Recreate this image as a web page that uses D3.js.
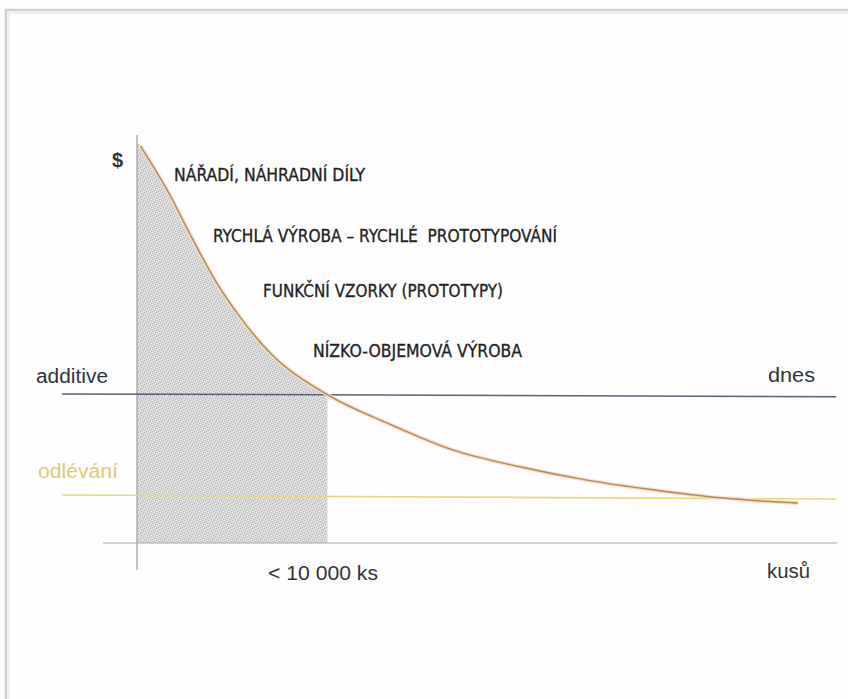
<!DOCTYPE html>
<html>
<head>
<meta charset="utf-8">
<script src="https://cdn.jsdelivr.net/npm/d3@7"></script>
<style>
  html, body { margin: 0; padding: 0; background: #ffffff; }
  svg { display: block; }
</style>
</head>
<body>
<svg id="chart" width="848" height="699"></svg>
<script>
// Cost per piece vs. number of pieces (arbitrary units 0–100 on both axes)
const curveX = [0.5, 4.3, 8.0, 11.4, 14.7, 18.6, 27.2, 35.7, 45.1, 54.7, 64.3, 73.7, 83.3, 94.4];
const curveY = [98.5, 87.6, 75.2, 64.5, 56.1, 47.9, 36.8, 29.8, 23.1, 18.9, 15.6, 13.2, 11.2, 9.9];

// Reference cost levels (value at the left end, value at the right end)
const additiveLevel = [37.0, 36.3];
const castingLevel = [11.9, 10.9];

// Break-even quantity where the curve meets the additive level
const breakEven = 27.2;

// Application areas listed along the curve
const applications = [
  "NÁŘADÍ, NÁHRADNÍ DÍLY",
  "RYCHLÁ VÝROBA – RYCHLÉ  PROTOTYPOVÁNÍ",
  "FUNKČNÍ VZORKY (PROTOTYPY)",
  "NÍZKO-OBJEMOVÁ VÝROBA"
];

// Axis and line labels
const yAxisLabel = "$";
const xAxisLabel = "kusů";
const breakEvenLabel = "< 10 000 ks";
const additiveLabel = "additive";
const additiveNote = "dnes";
const castingLabel = "odlévání";

const svg = d3.select("#chart");
const x = d3.scaleLinear().domain([0, 100]).range([137, 837]);
const y = d3.scaleLinear().domain([0, 100]).range([543, 140]);

// Page frame
svg.append("rect").attr("x", 0).attr("y", 0).attr("width", 848).attr("height", 699).attr("fill", "#fefefe");
svg.append("path")
  .attr("d", "M6,699 L6,10 L848,10")
  .attr("fill", "none").attr("stroke", "#cfcfcf").attr("stroke-width", 2.5);
svg.append("path")
  .attr("d", "M9,699 L9,13 L848,13")
  .attr("fill", "none").attr("stroke", "#efefef").attr("stroke-width", 2);

// Stippled texture for the area under the curve
const defs = svg.append("defs");
const pat = defs.append("pattern").attr("id", "stipple")
  .attr("patternUnits", "userSpaceOnUse").attr("width", 6).attr("height", 6);
pat.append("rect").attr("width", 6).attr("height", 6).attr("fill", "#d7d7d7");
const dark = [[0,0],[3,1],[1,3],[4,4],[5,2],[2,5]];
const light = [[1,1],[4,2],[2,4],[5,5],[0,3],[3,0]];
dark.forEach(([a,b]) => pat.append("rect").attr("x", a).attr("y", b).attr("width", 1).attr("height", 1).attr("fill", "#b2b2b2"));
light.forEach(([a,b]) => pat.append("rect").attr("x", a).attr("y", b).attr("width", 1).attr("height", 1).attr("fill", "#efefef"));

defs.append("clipPath").attr("id", "underBreakEven")
  .append("rect")
  .attr("x", x(0)).attr("y", 0)
  .attr("width", x(breakEven) - x(0)).attr("height", 699);

const pts = curveX.map((v, i) => [v, curveY[i]]);
const ptsArea = [[0, curveY[0] + 1]].concat(pts);

const area = d3.area()
  .x(d => x(d[0])).y0(y(0)).y1(d => y(d[1]))
  .curve(d3.curveMonotoneX);
svg.append("path")
  .datum(ptsArea)
  .attr("d", area)
  .attr("fill", "url(#stipple)")
  .attr("clip-path", "url(#underBreakEven)");

// Axes
svg.append("line")
  .attr("x1", x(0)).attr("x2", x(0))
  .attr("y1", y(100) - 5).attr("y2", y(0) + 27)
  .attr("stroke", "#9a9a9a").attr("stroke-width", 1.2);
svg.append("line")
  .attr("x1", x(0) - 34).attr("x2", x(100))
  .attr("y1", y(0)).attr("y2", y(0))
  .attr("stroke", "#a8a8a8").attr("stroke-width", 1.2);

// Reference cost levels
const lineFrom = -10.7, lineTo = 99.9;
svg.append("line")
  .attr("x1", x(lineFrom)).attr("x2", x(lineTo))
  .attr("y1", y(castingLevel[0])).attr("y2", y(castingLevel[1]))
  .attr("stroke", "#e6d977").attr("stroke-width", 1.6);
svg.append("line")
  .attr("x1", x(lineFrom)).attr("x2", x(lineTo))
  .attr("y1", y(additiveLevel[0])).attr("y2", y(additiveLevel[1]))
  .attr("stroke", "#52627a").attr("stroke-width", 1.5);

// Cost curve
const line = d3.line().x(d => x(d[0])).y(d => y(d[1])).curve(d3.curveMonotoneX);
svg.append("path").datum(pts).attr("d", line)
  .attr("fill", "none").attr("stroke", "#f5e0c6").attr("stroke-width", 4);
svg.append("path").datum(pts).attr("d", line)
  .attr("fill", "none").attr("stroke", "#b3865a").attr("stroke-width", 1.5);

// Labels
const capsFont = "'Liberation Sans Narrow', 'DejaVu Sans Condensed', 'Open Sans', sans-serif";
const plainFont = "'Liberation Sans', Arial, sans-serif";

const appPos = [
  { x: 174, y: 181, w: 191 },
  { x: 213, y: 242, w: 344 },
  { x: 263, y: 297, w: 240 },
  { x: 313, y: 357, w: 209 }
];
svg.append("g").selectAll("text").data(applications).join("text")
  .attr("x", (d, i) => appPos[i].x)
  .attr("y", (d, i) => appPos[i].y)
  .attr("textLength", (d, i) => appPos[i].w)
  .attr("lengthAdjust", "spacingAndGlyphs")
  .attr("font-family", capsFont)
  .attr("font-size", 17)
  .attr("fill", "#222")
  .attr("stroke", "#222").attr("stroke-width", 0.3)
  .style("white-space", "pre")
  .text(d => d);

svg.append("text").attr("x", 117.5).attr("y", 167)
  .attr("text-anchor", "middle")
  .attr("font-family", plainFont).attr("font-size", 20).attr("font-weight", "bold")
  .attr("fill", "#333").text(yAxisLabel);

svg.append("text").attr("x", 36).attr("y", 383)
  .attr("textLength", 72).attr("lengthAdjust", "spacingAndGlyphs")
  .attr("font-family", plainFont).attr("font-size", 20)
  .attr("fill", "#2f3340").text(additiveLabel);

svg.append("text").attr("x", 768).attr("y", 382)
  .attr("textLength", 47).attr("lengthAdjust", "spacingAndGlyphs")
  .attr("font-family", plainFont).attr("font-size", 20)
  .attr("fill", "#2f3340").text(additiveNote);

svg.append("text").attr("x", 38).attr("y", 478)
  .attr("textLength", 80).attr("lengthAdjust", "spacingAndGlyphs")
  .attr("font-family", plainFont).attr("font-size", 20)
  .attr("fill", "#dccb6a").text(castingLabel);

svg.append("text").attr("x", 268).attr("y", 580)
  .attr("textLength", 110).attr("lengthAdjust", "spacingAndGlyphs")
  .attr("font-family", plainFont).attr("font-size", 20)
  .attr("fill", "#333").text(breakEvenLabel);

svg.append("text").attr("x", 767).attr("y", 578)
  .attr("textLength", 43).attr("lengthAdjust", "spacingAndGlyphs")
  .attr("font-family", plainFont).attr("font-size", 20)
  .attr("fill", "#333").text(xAxisLabel);
</script>
</body>
</html>
